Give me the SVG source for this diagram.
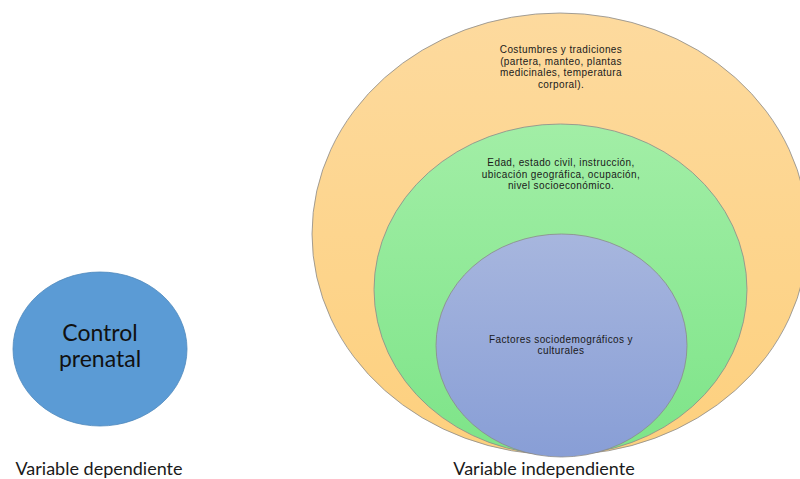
<svg xmlns="http://www.w3.org/2000/svg" width="800" height="479" viewBox="0 0 800 479">
<defs>
<linearGradient id="gOr" x1="0" y1="0" x2="0" y2="1"><stop offset="0" stop-color="#FDDA9E"/><stop offset="1" stop-color="#FDD07E"/></linearGradient>
<linearGradient id="gGr" x1="0" y1="0" x2="0" y2="1"><stop offset="0" stop-color="#A2EEA6"/><stop offset="1" stop-color="#7DE488"/></linearGradient>
<linearGradient id="gBl" x1="0" y1="0" x2="0" y2="1"><stop offset="0" stop-color="#A7B6DE"/><stop offset="1" stop-color="#889ED6"/></linearGradient>
</defs>
<style>
.e{stroke:#8a8a8a;stroke-width:0.8}
.s{font-family:"Liberation Sans",Arial,sans-serif;font-size:10px;letter-spacing:0.4px;fill:#1a1a1a;text-anchor:middle}
.b{font-family:Lato,"Liberation Sans",sans-serif;font-size:18px;fill:#1a1a1a;text-anchor:middle}
.c{font-family:Lato,"Liberation Sans",sans-serif;font-size:23px;fill:#111;text-anchor:middle}
</style>
<rect width="800" height="479" fill="#ffffff"/>
<g id="control-prenatal">
<ellipse cx="100" cy="349" rx="87" ry="77" fill="#5B9BD5" stroke="#4f89bd" stroke-width="0.8"/>
<text class="c" x="100" y="341">Control</text>
<text class="c" x="100" y="367">prenatal</text>
</g>
<g id="costumbres">
<ellipse class="e" cx="560" cy="234" rx="248" ry="221" fill="url(#gOr)"/>
<text class="s" x="561" y="53">Costumbres y tradiciones</text>
<text class="s" x="561" y="64.7">(partera, manteo, plantas</text>
<text class="s" x="561" y="76.4">medicinales, temperatura</text>
<text class="s" x="561" y="88.1">corporal).</text>
</g>
<g id="edad">
<ellipse class="e" cx="560.5" cy="289.5" rx="186.5" ry="165.5" fill="url(#gGr)"/>
<text class="s" x="561" y="166">Edad, estado civil, instrucción,</text>
<text class="s" x="561" y="177.6">ubicación geográfica, ocupación,</text>
<text class="s" x="561" y="189.2">nivel socioeconómico.</text>
</g>
<g id="factores">
<ellipse class="e" cx="561.5" cy="345.5" rx="125.5" ry="111.5" fill="url(#gBl)"/>
<text class="s" x="561" y="342.5">Factores sociodemográficos y</text>
<text class="s" x="561" y="354.1">culturales</text>
</g>
<g id="labels">
<text class="b" x="99" y="475">Variable dependiente</text>
<text class="b" x="544" y="475">Variable independiente</text>
</g>
<g id="connectors"/>
</svg>
